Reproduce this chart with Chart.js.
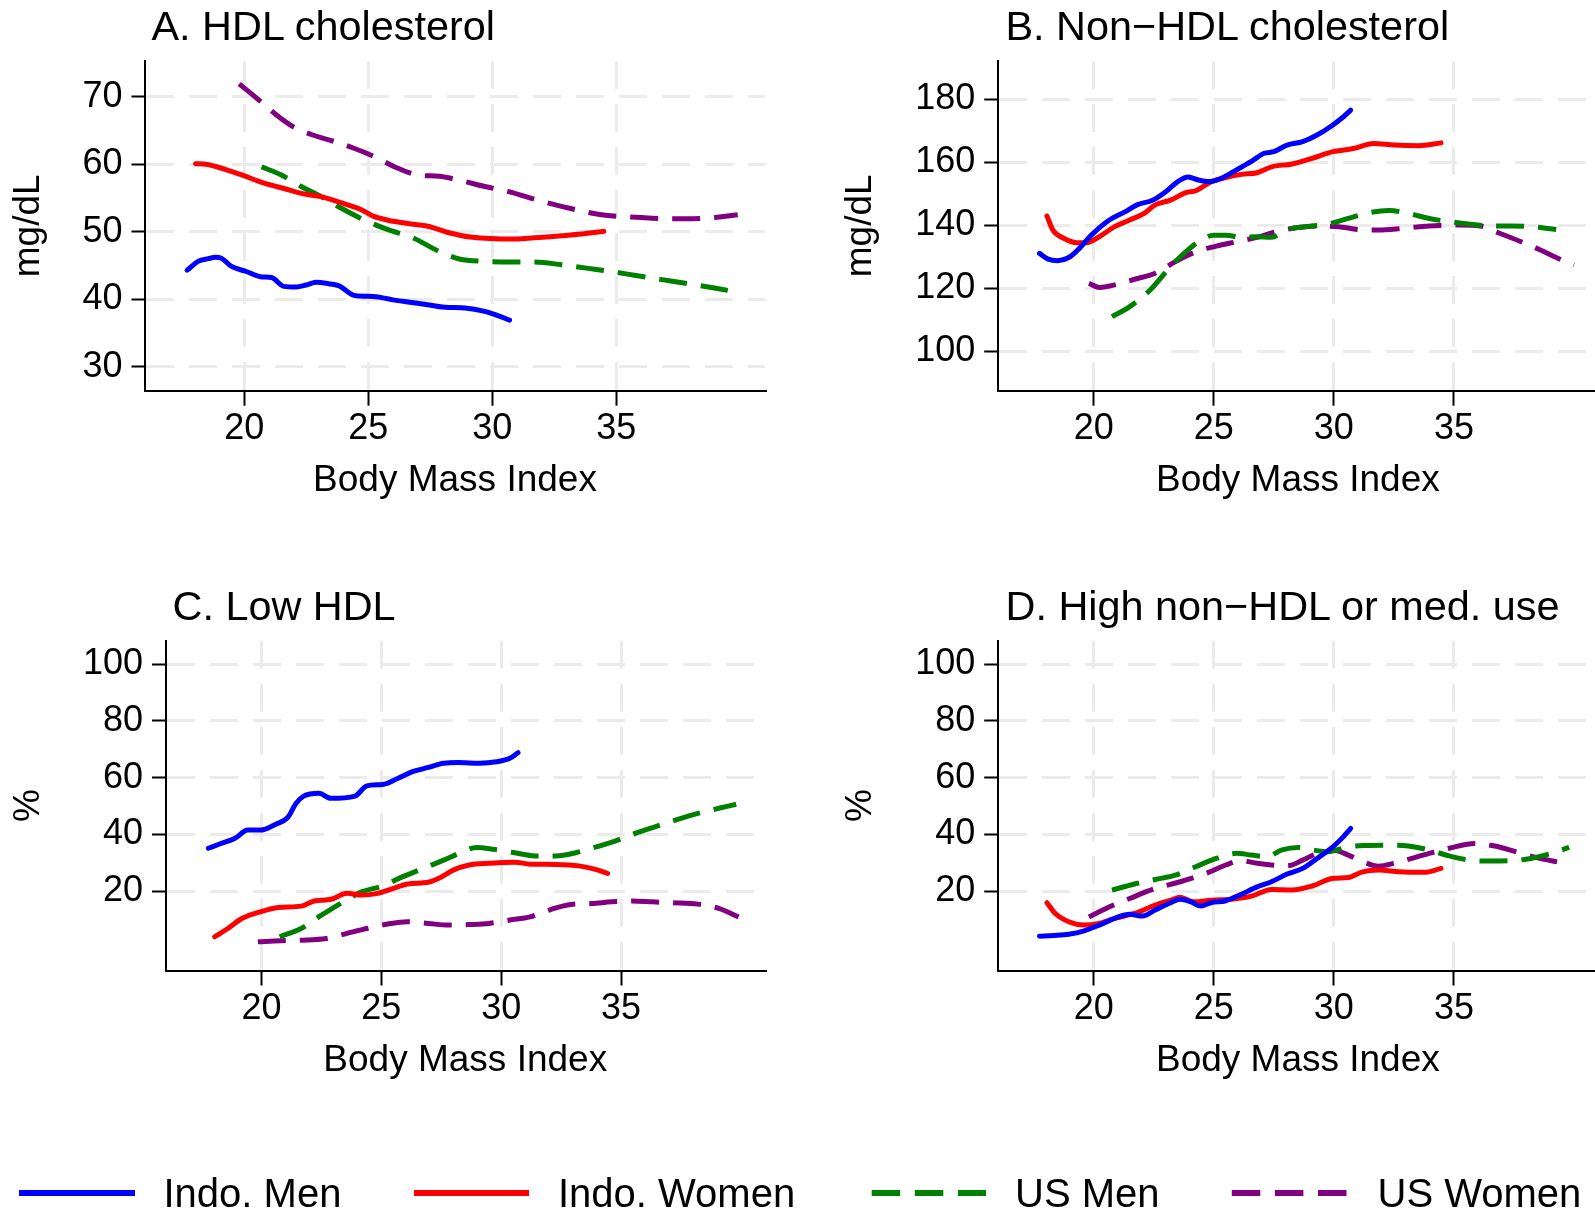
<!DOCTYPE html>
<html><head><meta charset="utf-8">
<script src="https://cdn.jsdelivr.net/npm/chart.js@4.4.1/dist/chart.umd.min.js"></script>
<style>
html,body{margin:0;padding:0;background:#fff;overflow:hidden;width:1595px;height:1214px;}
body{position:relative;font-family:"Liberation Sans",Arial,Helvetica,sans-serif;color:#000;}
canvas{position:absolute;}
.ttl{position:absolute;font-size:41.4px;line-height:41px;white-space:nowrap;}
.leg{position:absolute;font-size:40px;line-height:40px;white-space:nowrap;top:1173px;}
#legsvg{position:absolute;left:0;top:0;pointer-events:none;}
</style></head><body>
<canvas id="cA" width="797" height="520" style="left:0px;top:0px;width:797px;height:520px"></canvas>
<canvas id="cB" width="766" height="520" style="left:832px;top:0px;width:766px;height:520px"></canvas>
<canvas id="cC" width="797" height="520" style="left:0px;top:580px;width:797px;height:520px"></canvas>
<canvas id="cD" width="766" height="520" style="left:832px;top:580px;width:766px;height:520px"></canvas>
<div id="tA" class="ttl" style="left:151.5px;top:5.8px"></div>
<div id="tB" class="ttl" style="left:1005.5px;top:5.8px"></div>
<div id="tC" class="ttl" style="left:172.5px;top:585.6px"></div>
<div id="tD" class="ttl" style="left:1005.5px;top:585.6px"></div>
<svg id="legsvg" width="1595" height="1214">
  <line x1="19" y1="1193" x2="135" y2="1193" stroke="#0000ff" stroke-width="6"/>
  <line x1="414" y1="1193" x2="529" y2="1193" stroke="#ff0000" stroke-width="6"/>
  <line x1="871.7" y1="1193" x2="986" y2="1193" stroke="#008000" stroke-width="6" stroke-dasharray="28.5 14.6"/>
  <line x1="1231.8" y1="1193" x2="1348" y2="1193" stroke="#800080" stroke-width="6" stroke-dasharray="28.5 14.6"/>
</svg>
<div id="l0" class="leg" style="left:163.5px"></div>
<div id="l1" class="leg" style="left:558px"></div>
<div id="l2" class="leg" style="left:1015px"></div>
<div id="l3" class="leg" style="left:1377.5px"></div>
<script>
// ---------------- DATA ----------------
const xTicks = [20, 25, 30, 35];
const yTicksA = [30, 40, 50, 60, 70];
const yTicksB = [100, 120, 140, 160, 180];
const yTicksCD = [20, 40, 60, 80, 100];
const seriesNames = ["Indo. Men", "Indo. Women", "US Men", "US Women"];
const panelTitles = ["A. HDL cholesterol", "B. Non\u2212HDL cholesterol", "C. Low HDL", "D. High non\u2212HDL or med. use"];
const yTitles = ["mg/dL", "mg/dL", "%", "%"];
const xTitle = "Body Mass Index";

// Panel A: HDL cholesterol (mg/dL) vs BMI
const hdlIndoMen = [[17.7,44.3],[18.14,45.6],[18.55,46.0],[18.85,46.2],[19.06,46.1],[19.47,44.9],[20.08,44.1],[20.7,43.3],[21.1,43.2],[21.6,41.9],[22.1,41.8],[22.5,42.1],[22.9,42.5],[23.4,42.3],[23.8,42.0],[24.5,40.5],[25.2,40.4],[26.0,39.9],[27.2,39.3],[28.1,38.8],[28.9,38.7],[29.7,38.2],[30.2,37.6],[30.7,36.9]];
const hdlIndoWomen = [[18.04,60.07],[18.45,60.0],[19.26,59.2],[19.98,58.3],[20.8,57.2],[21.6,56.4],[22.4,55.6],[23.1,55.2],[23.9,54.3],[24.7,53.3],[25.2,52.3],[25.8,51.7],[26.6,51.2],[27.4,50.8],[28.3,49.8],[29.1,49.2],[29.9,49.0],[30.7,48.9],[31.7,49.1],[32.8,49.4],[33.6,49.65],[34.5,50.05]];
const hdlUSMen = [[20.7,59.6],[21.5,58.4],[22.3,56.7],[23.1,55.2],[23.9,53.5],[24.8,51.8],[25.8,50.3],[26.8,49.1],[27.85,47.1],[28.67,45.95],[29.7,45.6],[30.7,45.5],[31.7,45.5],[32.8,45.1],[33.8,44.6],[34.8,44.1],[35.8,43.5],[36.85,42.9],[37.9,42.3],[38.9,41.7],[39.5,41.3]];
const hdlUSWomen = [[19.8,71.9],[20.5,69.8],[21.3,67.3],[22.0,65.5],[22.7,64.4],[23.6,63.4],[24.4,62.4],[25.2,61.2],[26.2,59.4],[27.0,58.4],[27.85,58.2],[28.7,57.6],[29.7,56.7],[30.7,55.9],[31.9,54.6],[33.2,53.4],[34.4,52.5],[35.4,52.2],[36.45,52.0],[37.7,51.9],[38.7,52.0],[39.9,52.5]];

// Panel B: Non-HDL cholesterol (mg/dL) vs BMI
const nonhdlIndoMen = [[17.74,131.1],[18.1,129.3],[18.5,128.8],[18.96,129.8],[19.4,132.7],[19.9,136.9],[20.65,141.7],[21.3,144.3],[21.8,146.5],[22.45,148.0],[23.0,150.7],[23.5,153.9],[23.93,155.4],[24.36,154.4],[24.8,153.9],[25.3,154.9],[25.94,157.6],[26.6,160.5],[27.1,162.9],[27.5,163.4],[28.05,165.5],[28.7,166.6],[29.3,168.7],[29.96,171.9],[30.4,174.5],[30.7,176.6]];
const nonhdlIndoWomen = [[18.05,143.0],[18.3,138.5],[18.75,135.9],[19.28,134.5],[19.7,134.5],[20.23,136.4],[20.87,139.6],[21.5,141.7],[22.1,143.8],[22.56,146.5],[23.2,148.0],[23.83,150.4],[24.25,151.0],[24.9,153.9],[25.5,155.2],[26.15,156.2],[26.8,156.7],[27.4,158.6],[28.27,159.5],[29.1,161.3],[29.96,163.4],[30.8,164.4],[31.65,166.0],[32.5,165.5],[33.55,165.3],[34.46,166.2]];
const nonhdlUSMen = [[20.76,111.0],[21.5,114.2],[22.35,119.5],[23.2,126.9],[23.83,131.6],[24.46,135.3],[24.99,136.9],[25.5,136.9],[26.15,136.2],[26.8,136.4],[27.4,136.2],[28.05,138.7],[28.9,139.6],[29.75,140.4],[30.6,142.2],[31.44,144.0],[32.3,144.7],[33.1,143.8],[33.97,142.2],[34.8,141.2],[35.67,140.4],[36.5,139.8],[37.36,139.8],[38.2,139.6],[39.26,138.7]];
const nonhdlUSWomen = [[19.8,121.6],[20.23,120.3],[20.87,121.1],[21.7,122.9],[22.56,124.8],[23.4,128.5],[24.25,131.6],[25.1,133.4],[25.94,134.8],[26.8,136.2],[27.6,138.0],[28.5,139.3],[29.3,139.8],[30.2,139.6],[31.0,138.7],[31.86,138.5],[32.7,138.9],[33.55,139.6],[34.4,140.0],[35.24,140.1],[36.1,139.8],[36.9,137.5],[37.8,134.8],[38.6,132.2],[39.26,129.8],[40.0,127.4]];

// Panel C: Low HDL (%) vs BMI
const lowhdlIndoMen = [[17.79,35.1],[18.26,36.6],[18.9,38.6],[19.43,41.5],[19.96,41.5],[20.6,43.6],[21.1,46.0],[21.44,50.9],[21.76,53.5],[22.4,54.5],[22.9,52.7],[23.9,53.5],[24.4,57.1],[25.05,57.6],[25.7,59.8],[26.3,62.1],[26.96,63.6],[27.6,65.1],[28.2,65.3],[29.1,65.1],[29.8,65.6],[30.36,66.8],[30.7,68.8]];
const lowhdlIndoWomen = [[18.05,3.9],[18.6,6.8],[19.2,10.4],[19.96,12.7],[20.7,14.2],[21.66,14.7],[22.2,16.5],[22.9,17.1],[23.57,19.2],[24.2,18.6],[24.84,19.2],[25.48,20.9],[26.1,22.5],[26.96,23.1],[27.4,24.5],[28.0,27.4],[28.66,29.2],[29.5,29.8],[30.57,30.2],[31.2,29.5],[32.27,29.4],[33.3,28.8],[33.97,27.6],[34.44,26.2]];
const lowhdlUSMen = [[20.76,3.9],[21.66,6.8],[22.5,11.5],[23.35,15.9],[24.2,19.8],[25.05,21.8],[25.9,25.1],[26.75,28.0],[27.6,30.9],[28.24,33.3],[28.98,35.4],[29.7,34.7],[30.57,33.5],[31.4,32.4],[32.27,32.4],[33.1,33.5],[33.97,35.6],[34.8,37.8],[35.67,40.6],[36.5,42.9],[37.36,45.3],[38.2,47.4],[39.07,49.2],[39.8,50.6]];
const lowhdlUSWomen = [[19.85,2.1],[20.8,2.5],[21.66,2.7],[22.7,3.3],[23.57,5.1],[24.4,6.8],[25.27,8.4],[26.1,9.2],[26.96,8.6],[27.8,8.0],[28.66,8.2],[29.5,8.6],[30.36,9.8],[31.2,10.9],[32.06,13.5],[32.9,15.3],[33.76,15.6],[34.6,16.2],[35.46,16.5],[36.3,16.2],[37.15,15.9],[38.2,15.4],[39.07,13.9],[39.9,10.9]];

// Panel D: High non-HDL or medication use (%) vs BMI
const highIndoMen = [[17.74,4.1],[18.33,4.35],[18.96,4.8],[19.6,6.0],[20.23,8.0],[20.87,10.4],[21.5,11.8],[22.03,11.2],[22.56,13.3],[23.2,15.9],[23.6,17.1],[24.04,16.2],[24.46,14.7],[24.88,15.9],[25.5,16.6],[26.15,18.9],[26.8,21.5],[27.4,23.3],[28.05,26.0],[28.7,28.0],[29.3,31.5],[29.96,35.6],[30.4,39.2],[30.7,42.1]];
const highIndoWomen = [[18.05,15.9],[18.4,12.1],[18.96,9.2],[19.6,8.0],[20.23,8.6],[20.87,10.4],[21.7,12.1],[22.56,15.1],[23.2,16.8],[23.6,17.8],[24.15,16.2],[24.88,16.8],[25.73,17.1],[26.57,18.2],[27.4,20.6],[28.27,20.4],[29.1,21.8],[29.96,24.5],[30.6,24.8],[31.2,26.8],[31.86,27.4],[32.7,26.8],[33.76,26.6],[34.46,28.0]];
const highUSMen = [[20.76,20.35],[21.7,22.5],[22.56,24.1],[23.4,25.6],[24.25,28.6],[25.1,31.5],[25.94,33.3],[26.57,32.7],[27.2,32.1],[27.84,34.5],[28.5,35.4],[29.1,34.5],[29.75,33.9],[30.6,35.6],[31.44,36.1],[32.3,36.2],[33.1,35.9],[33.97,34.5],[34.8,32.4],[35.67,30.9],[36.5,30.6],[37.36,30.7],[38.2,31.5],[39.07,33.3],[39.8,35.4]];
const highUSWomen = [[19.8,10.9],[20.66,14.5],[21.5,17.4],[22.56,20.9],[23.6,23.3],[24.67,26.2],[25.5,29.2],[26.15,30.7],[26.8,29.8],[27.4,29.2],[28.05,28.9],[28.7,30.9],[29.3,33.3],[29.96,34.5],[30.6,32.7],[31.2,30.4],[31.86,28.8],[32.5,29.8],[33.1,31.2],[33.97,33.3],[34.8,35.1],[35.88,36.8],[36.7,35.9],[37.57,33.9],[38.4,31.9],[39.47,30.0]];

// ---------------- STYLE / LAYOUT ----------------
const FONT = "'Liberation Sans', Arial, Helvetica, sans-serif";
const colors = ['#0000ff', '#ff0000', '#008000', '#800080'];
const dashes = [[], [], [28, 14], [28, 14]];
const X_H = 112.3;

function makeDatasets(list) {
  return list.map((pts, i) => ({
    label: seriesNames[i],
    data: pts.map(p => ({x: p[0], y: p[1]})),
    borderColor: colors[i],
    borderWidth: 5,
    borderDash: dashes[i],
    borderCapStyle: dashes[i].length ? 'butt' : 'round',
    borderJoinStyle: 'round',
    fill: false,
    pointRadius: 0,
    cubicInterpolationMode: 'monotone'
  }));
}

function makePanel(id, box, area, yRange, yTicks, yTitle, lists) {
  const ctx = document.getElementById(id);
  return new Chart(ctx, {
    type: 'line',
    data: {datasets: makeDatasets(lists)},
    options: {
      responsive: false, animation: false, devicePixelRatio: 1,
      layout: {autoPadding: false, padding: {
        left: 0,
        top: area.top - box.top,
        right: box.left + box.width - area.right,
        bottom: box.top + box.height - area.bottom - X_H
      }},
      plugins: {legend: {display: false}, title: {display: false}, tooltip: {enabled: false}},
      scales: {
        x: {
          type: 'linear', min: 16, max: 41,
          afterBuildTicks: s => { s.ticks = xTicks.map(v => ({value: v})); },
          afterFit: s => { s.height = X_H; },
          grid: {color: '#ebebeb', lineWidth: 3, tickLength: 15, tickColor: '#000', tickWidth: 2, tickBorderDash: []},
          border: {display: true, color: '#000', width: 2, dash: [28, 15]},
          ticks: {color: '#000', font: {family: FONT, size: 36}, padding: 2, maxRotation: 0, autoSkip: false, callback: v => String(v)},
          title: {display: true, text: xTitle, color: '#000', font: {family: FONT, size: 37}, padding: {top: 0, bottom: 0}}
        },
        y: {
          type: 'linear', min: yRange[0], max: yRange[1],
          afterBuildTicks: s => { s.ticks = yTicks.map(v => ({value: v})); },
          afterFit: s => { s.width = area.left - box.left; },
          grid: {color: '#ebebeb', lineWidth: 3, tickLength: 13.5, tickColor: '#000', tickWidth: 2, tickBorderDash: []},
          border: {display: true, color: '#000', width: 2, dash: [28, 15]},
          ticks: {color: '#000', font: {family: FONT, size: 36}, padding: 9, autoSkip: false, callback: v => String(v)},
          title: {display: true, text: yTitle, color: '#000', font: {family: FONT, size: 37}, padding: {top: 7, bottom: 0}}
        }
      }
    }
  });
}

makePanel('cA', {left: 0, top: 0, width: 797, height: 520}, {left: 145, top: 61, right: 765, bottom: 390.7},
  [26.44, 75.29], yTicksA, yTitles[0], [hdlIndoMen, hdlIndoWomen, hdlUSMen, hdlUSWomen]);
makePanel('cB', {left: 832, top: 0, width: 766, height: 520}, {left: 997.7, top: 61, right: 1598, bottom: 390.7},
  [87.5, 192.2], yTicksB, yTitles[1], [nonhdlIndoMen, nonhdlIndoWomen, nonhdlUSMen, nonhdlUSWomen]);
makePanel('cC', {left: 0, top: 580, width: 797, height: 520}, {left: 165.5, top: 640.8, right: 765, bottom: 970.5},
  [-8.0, 108.25], yTicksCD, yTitles[2], [lowhdlIndoMen, lowhdlIndoWomen, lowhdlUSMen, lowhdlUSWomen]);
makePanel('cD', {left: 832, top: 580, width: 766, height: 520}, {left: 997.7, top: 640.8, right: 1598, bottom: 970.5},
  [-8.0, 108.25], yTicksCD, yTitles[3], [highIndoMen, highIndoWomen, highUSMen, highUSWomen]);

['tA', 'tB', 'tC', 'tD'].forEach((id, i) => { document.getElementById(id).textContent = panelTitles[i]; });
['l0', 'l1', 'l2', 'l3'].forEach((id, i) => { document.getElementById(id).textContent = seriesNames[i]; });
</script>
</body></html>
